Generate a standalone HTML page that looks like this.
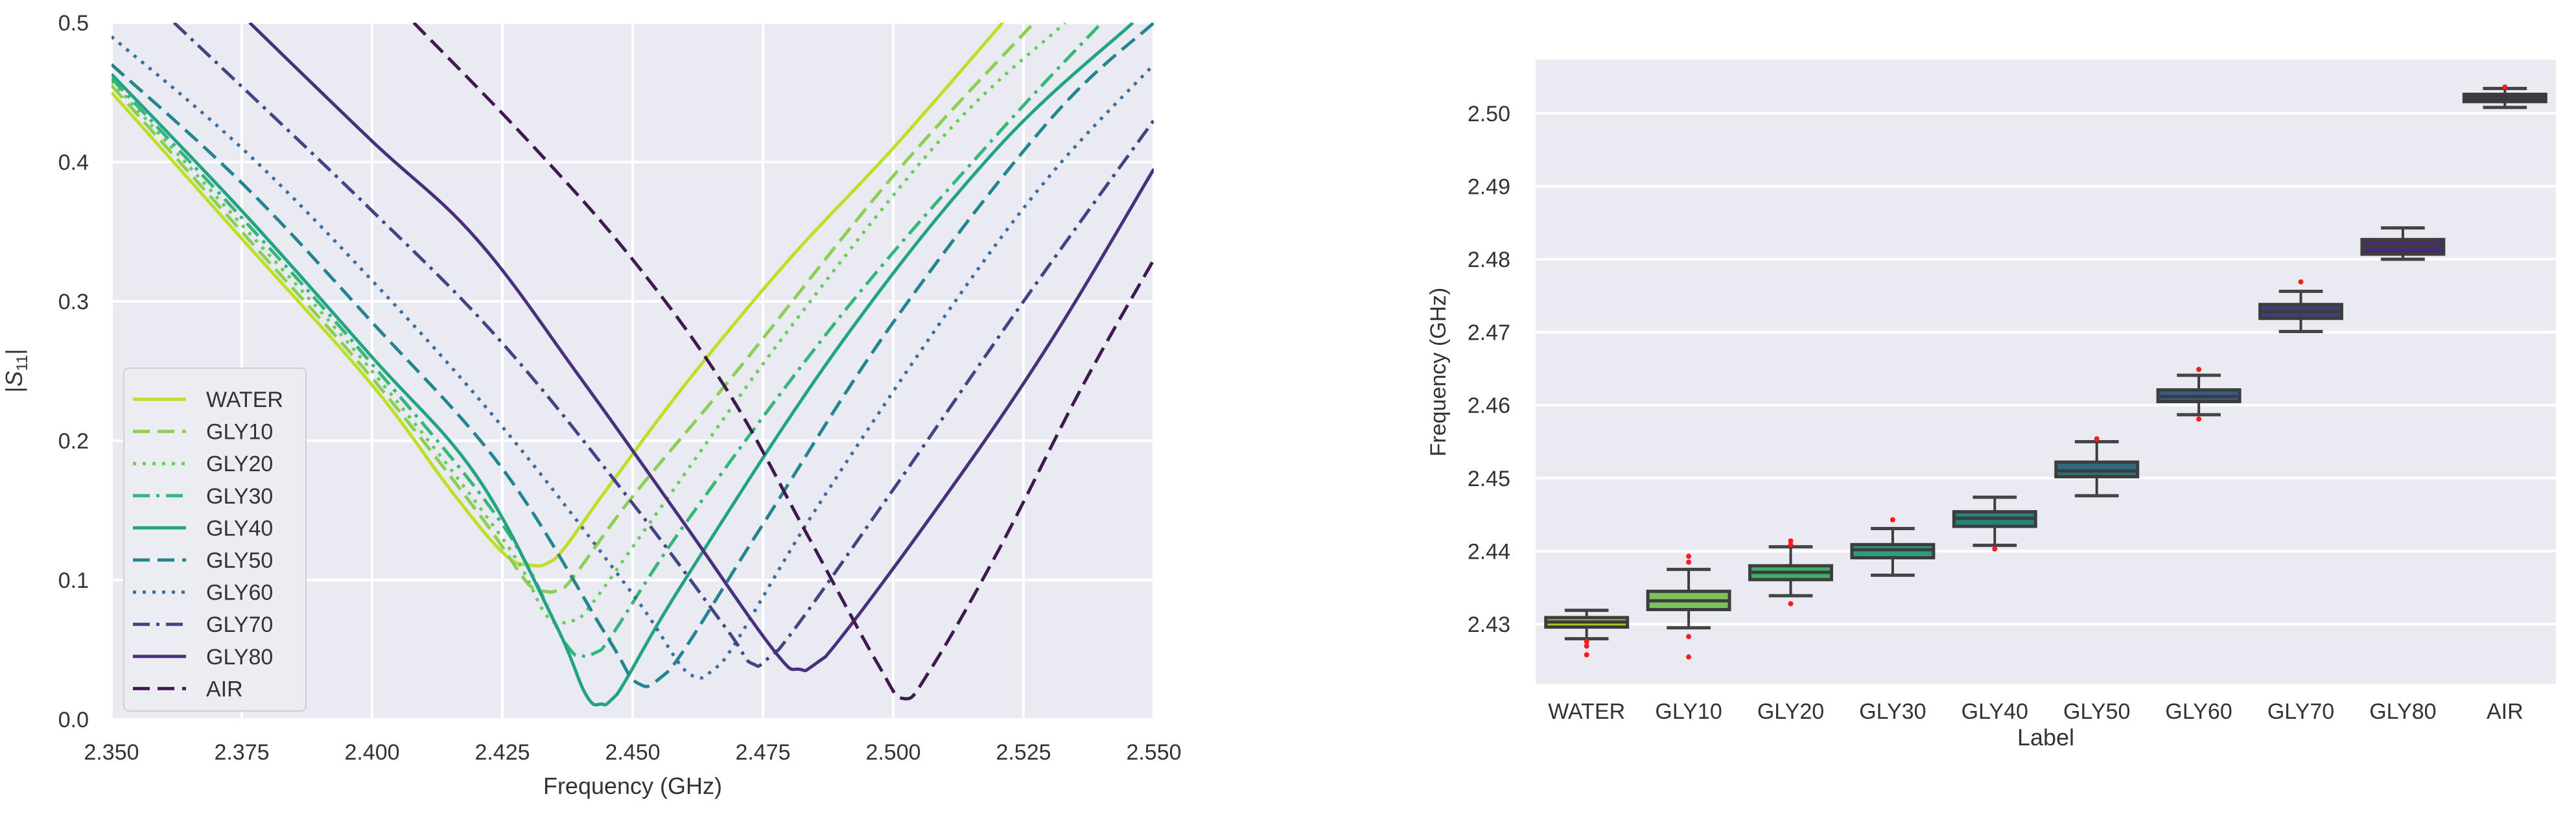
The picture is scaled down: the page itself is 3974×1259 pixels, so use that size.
<!DOCTYPE html>
<html><head><meta charset="utf-8">
<style>
html,body{margin:0;padding:0;background:#fff;}
body{width:3974px;height:1254px;overflow:hidden;font-family:"Liberation Sans",sans-serif;}
svg text{font-family:"Liberation Sans",sans-serif;fill:#333;}
</style></head>
<body>
<svg id="chart" width="3974" height="1254" viewBox="0 0 3974 1254" xmlns="http://www.w3.org/2000/svg">
  <g id="left"></g>
  <g id="right"></g>
</svg>
<script>
// ---------- Left chart data ----------
const seriesNames = ["WATER","GLY10","GLY20","GLY30","GLY40","GLY50","GLY60","GLY70","GLY80","AIR"];
const xTicks = [2.350,2.375,2.400,2.425,2.450,2.475,2.500,2.525,2.550];
const yTicks = [0.0,0.1,0.2,0.3,0.4,0.5];
const fWATER = [2.35,2.375,2.40,2.415,2.425,2.43,2.435,2.445,2.46,2.48,2.50,2.521];
const sWATER = [0.450,0.345,0.24,0.165,0.12,0.111,0.115,0.165,0.24,0.33,0.41,0.5];
const fGLY10 = [2.35,2.375,2.40,2.42,2.43,2.433,2.437,2.45,2.47,2.50,2.527];
const sGLY10 = [0.455,0.35,0.245,0.15,0.097,0.092,0.095,0.16,0.25,0.39,0.5];
const fGLY20 = [2.35,2.375,2.40,2.425,2.433,2.436,2.44,2.455,2.48,2.51,2.533];
const sGLY20 = [0.458,0.355,0.25,0.13,0.077,0.07,0.073,0.15,0.28,0.42,0.5];
const fGLY30 = [2.35,2.375,2.40,2.425,2.437,2.44,2.444,2.46,2.49,2.52,2.54];
const sGLY30 = [0.46,0.36,0.255,0.14,0.055,0.046,0.05,0.14,0.29,0.42,0.5];
const fGLY40 = [2.35,2.375,2.40,2.42,2.435,2.441,2.444,2.447,2.46,2.49,2.52,2.546];
const sGLY40 = [0.463,0.365,0.26,0.175,0.07,0.018,0.011,0.018,0.1,0.27,0.41,0.5];
const fGLY50 = [2.35,2.375,2.40,2.425,2.445,2.451,2.457,2.475,2.50,2.53,2.55];
const sGLY50 = [0.47,0.385,0.285,0.18,0.06,0.026,0.035,0.14,0.285,0.43,0.5];
const fGLY60 = [2.35,2.375,2.40,2.425,2.45,2.461,2.467,2.485,2.51,2.53,2.55];
const sGLY60 = [0.49,0.41,0.315,0.21,0.09,0.032,0.04,0.15,0.29,0.39,0.47];
const fGLY70 = [2.362,2.40,2.425,2.45,2.468,2.473,2.478,2.50,2.525,2.55];
const sGLY70 = [0.5,0.365,0.27,0.155,0.065,0.04,0.05,0.165,0.3,0.43];
const fGLY80 = [2.3765,2.40,2.42,2.44,2.46,2.477,2.482,2.487,2.51,2.53,2.55];
const sGLY80 = [0.5,0.415,0.345,0.245,0.14,0.05,0.036,0.045,0.16,0.27,0.395];
const fAIR = [2.408,2.43,2.45,2.468,2.483,2.497,2.502,2.507,2.52,2.536,2.55];
const sAIR = [0.5,0.415,0.33,0.237,0.136,0.04,0.015,0.035,0.12,0.237,0.33];
const seriesF = [fWATER,fGLY10,fGLY20,fGLY30,fGLY40,fGLY50,fGLY60,fGLY70,fGLY80,fAIR];
const seriesS = [sWATER,sGLY10,sGLY20,sGLY30,sGLY40,sGLY50,sGLY60,sGLY70,sGLY80,sAIR];

// ---------- Right chart data ----------
const boxLabels = ["WATER","GLY10","GLY20","GLY30","GLY40","GLY50","GLY60","GLY70","GLY80","AIR"];
const whiskerLow = [2.4280,2.4295,2.4339,2.4367,2.4408,2.4476,2.4587,2.4701,2.4800,2.5008];
const q1 = [2.4296,2.4320,2.4361,2.4391,2.4434,2.4502,2.4605,2.4719,2.4807,2.5016];
const medians = [2.4303,2.4332,2.4371,2.4402,2.4445,2.4510,2.4612,2.4728,2.4818,2.5021];
const q3 = [2.4309,2.4345,2.4380,2.4409,2.4454,2.4522,2.4621,2.4738,2.4827,2.5026];
const whiskerHigh = [2.4319,2.4375,2.4406,2.4431,2.4474,2.4550,2.4641,2.4756,2.4843,2.5034];
const outliers = [[2.4276,2.4270,2.4258],[2.4393,2.4385,2.4283,2.4255],[2.4414,2.4409,2.4328],[2.4443],[2.4403],[2.4554],[2.4649,2.4581],[2.4769],[],[2.5036]];
const boxYTicks = [2.43,2.44,2.45,2.46,2.47,2.48,2.49,2.50];

const NS="http://www.w3.org/2000/svg";
function mk(tag,attrs,parent){const e=document.createElementNS(NS,tag);for(const k in attrs)e.setAttribute(k,attrs[k]);parent.appendChild(e);return e;}

// smooth path through points (Catmull-Rom -> Bezier, clamped)
function smoothPath(pts){
  let d='M'+pts[0][0].toFixed(1)+' '+pts[0][1].toFixed(1);
  for(let i=0;i<pts.length-1;i++){
    const p0=pts[Math.max(0,i-1)],p1=pts[i],p2=pts[i+1],p3=pts[Math.min(pts.length-1,i+2)];
    const t=0.18;
    let c1x=p1[0]+(p2[0]-p0[0])*t, c1y=p1[1]+(p2[1]-p0[1])*t;
    let c2x=p2[0]-(p3[0]-p1[0])*t, c2y=p2[1]-(p3[1]-p1[1])*t;
    const lo=Math.min(p1[1],p2[1]),hi=Math.max(p1[1],p2[1]);
    const pad=(hi-lo)*0.3+3;
    c1y=Math.min(Math.max(c1y,lo-pad),hi+pad);
    c2y=Math.min(Math.max(c2y,lo-pad),hi+pad);
    d+=' C'+c1x.toFixed(1)+' '+c1y.toFixed(1)+' '+c2x.toFixed(1)+' '+c2y.toFixed(1)+' '+p2[0].toFixed(1)+' '+p2[1].toFixed(1);
  }
  return d;
}

// ----- Left chart -----
const L=document.getElementById('left');
const lx0=172,lx1=1780,ly0=35,ly1=1110;
const xmin=2.35,xmax=2.55,ymin=0,ymax=0.5;
function lx(f){return lx0+(f-xmin)/(xmax-xmin)*(lx1-lx0);}
function ly(v){return ly1-(v-ymin)/(ymax-ymin)*(ly1-ly0);}
const lbg=mk('rect',{x:lx0,y:ly0,width:lx1-lx0,height:ly1-ly0,fill:'#eaeaf2'},L);


xTicks.forEach(t=>{
  const g=mk('line',{x1:lx(t),x2:lx(t),y1:ly0,y2:ly1,stroke:'#fff','stroke-width':4},L);
  
  
  const tx=mk('text',{x:lx(t),y:1172,'text-anchor':'middle','font-size':34},L);
  tx.textContent=t.toFixed(3);
  
  
});
yTicks.forEach(t=>{
  const g=mk('line',{x1:lx0,x2:lx1,y1:ly(t),y2:ly(t),stroke:'#fff','stroke-width':4},L);
  
  
  const tx=mk('text',{x:137,y:ly(t)+12,'text-anchor':'end','font-size':34},L);
  tx.textContent=t.toFixed(1);
  
  
});
const colors=["#bddf26","#8ccf55","#6acd5b","#35b779","#22a384","#23858e","#3a6ea0","#424486","#4a2f7c","#3f1a4f"];
const dashes=["","26 12","5 10","26 10 5 10","","26 12","5 10","26 10 5 10","","26 12"];
const clip=mk('clipPath',{id:'lclip'},L);
mk('rect',{x:lx0,y:ly0,width:lx1-lx0,height:ly1-ly0},clip);
seriesNames.forEach((n,i)=>{
  const pts=seriesF[i].map((f,j)=>[lx(f),ly(seriesS[i][j])]);
  const p=mk('path',{d:smoothPath(pts),fill:'none',stroke:colors[i],'stroke-width':5,'stroke-dasharray':dashes[i],'stroke-linejoin':'round','clip-path':'url(#lclip)'},L);
  
  
});
// legend
const leg=mk('g',{},L);


mk('rect',{x:191,y:568,width:281,height:529,rx:8,fill:'#ececf3',stroke:'#cfcfd8','stroke-width':2},leg);
seriesNames.forEach((n,i)=>{
  const y=616+i*49.6;
  const ent=mk('g',{},leg);
  
  
  mk('line',{x1:205,x2:287,y1:y,y2:y,stroke:colors[i],'stroke-width':5,'stroke-dasharray':dashes[i]},ent);
  const t=mk('text',{x:318,y:y+12,'font-size':34},ent);
  t.textContent=n;
});
const xt=mk('text',{x:(lx0+lx1)/2,y:1225,'text-anchor':'middle','font-size':36},L);
xt.textContent='Frequency (GHz)';


const yt=mk('text',{x:0,y:0,'text-anchor':'middle','font-size':36,transform:'translate(34,572) rotate(-90)'},L);
yt.innerHTML='|<tspan font-style="italic">S</tspan><tspan font-size="24" dy="8">11</tspan><tspan dy="-8">|</tspan>';



// ----- Right chart -----
const R=document.getElementById('right');
const rx0=2369,rx1=3943,ry0=92,ry1=1055;
function rv(v){return 963-(v-2.43)/0.01*112.6;}
const slot=(rx1-rx0)/boxLabels.length;
function rc(i){return rx0+slot*(i+0.5);}
const rbg=mk('rect',{x:rx0,y:ry0,width:rx1-rx0,height:ry1-ry0,fill:'#eaeaf2'},R);


boxYTicks.forEach(t=>{
  const g=mk('line',{x1:rx0,x2:rx1,y1:rv(t),y2:rv(t),stroke:'#fff','stroke-width':4},R);
  
  
  const tx=mk('text',{x:2330,y:rv(t)+12,'text-anchor':'end','font-size':34},R);
  tx.textContent=t.toFixed(2);
  
  
});
const boxColors=["#a9c22c","#7cc35b","#3fae6a","#2a9c80","#26827f","#2f6a80","#3a5a86","#3c3f78","#472a6e","#3d234f"];
const bw=slot*0.8, cw=slot*0.43;
boxLabels.forEach((n,i)=>{
  const c=rc(i);
  const g=mk('g',{},R);
  
  
  mk('line',{x1:c,x2:c,y1:rv(whiskerHigh[i]),y2:rv(q3[i]),stroke:'#3d3d3d','stroke-width':4},g);
  mk('line',{x1:c,x2:c,y1:rv(q1[i]),y2:rv(whiskerLow[i]),stroke:'#3d3d3d','stroke-width':4},g);
  mk('line',{x1:c-cw/2,x2:c+cw/2,y1:rv(whiskerHigh[i]),y2:rv(whiskerHigh[i]),stroke:'#444','stroke-width':5},g);
  mk('line',{x1:c-cw/2,x2:c+cw/2,y1:rv(whiskerLow[i]),y2:rv(whiskerLow[i]),stroke:'#444','stroke-width':5},g);
  mk('rect',{x:c-bw/2,y:rv(q3[i]),width:bw,height:Math.max(2,rv(q1[i])-rv(q3[i])),fill:boxColors[i],stroke:'#3d3d3d','stroke-width':5},g);
  mk('line',{x1:c-bw/2,x2:c+bw/2,y1:rv(medians[i]),y2:rv(medians[i]),stroke:'#3d3d3d','stroke-width':5},g);
  outliers[i].forEach(o=>{
    const d=mk('circle',{cx:c,cy:rv(o),r:4,fill:'#ff1a1a'},g);
    
    
  });
  const tx=mk('text',{x:c,y:1109,'text-anchor':'middle','font-size':34},R);
  tx.textContent=n;
  
  
});
const rxt=mk('text',{x:(rx0+rx1)/2,y:1150,'text-anchor':'middle','font-size':36},R);
rxt.textContent='Label';


const ryt=mk('text',{x:0,y:0,'text-anchor':'middle','font-size':34,transform:'translate(2230,574) rotate(-90)'},R);
ryt.textContent='Frequency (GHz)';


</script>
</body></html>
